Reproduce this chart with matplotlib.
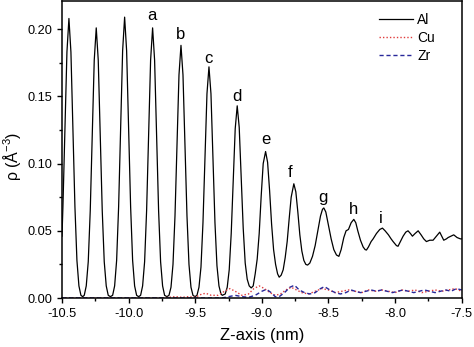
import matplotlib
matplotlib.use("Agg")
import matplotlib.pyplot as plt
from matplotlib.ticker import MultipleLocator

plt.rcParams['font.family'] = ['Liberation Sans', 'DejaVu Sans']
plt.rcParams['mathtext.fontset'] = 'custom'
plt.rcParams['mathtext.rm'] = 'Liberation Sans'
plt.rcParams['mathtext.it'] = 'Liberation Sans'
plt.rcParams['axes.unicode_minus'] = False

# Al density profile
al_z = [-10.500, -10.493, -10.478, -10.463, -10.448, -10.433, -10.418, -10.403, -10.388, -10.373, -10.358, -10.345,
        -10.333, -10.318, -10.303, -10.288, -10.273, -10.258, -10.243, -10.228, -10.213, -10.198, -10.183, -10.168, -10.153, -10.137,
        -10.120, -10.105, -10.090, -10.075, -10.060, -10.045, -10.030, -10.015, -10.000, -9.985, -9.970, -9.955, -9.940, -9.925,
        -9.910, -9.895, -9.880, -9.865, -9.850, -9.835, -9.820, -9.805, -9.790, -9.775, -9.760, -9.745, -9.730, -9.713,
        -9.697, -9.682, -9.667, -9.652, -9.637, -9.622, -9.607, -9.592, -9.577, -9.562, -9.547, -9.532, -9.517, -9.502,
        -9.487, -9.472, -9.457, -9.442, -9.427, -9.412, -9.397, -9.382, -9.367, -9.352, -9.337, -9.322, -9.307, -9.297,
        -9.275, -9.260, -9.245, -9.230, -9.215, -9.200, -9.185, -9.170, -9.155, -9.140, -9.125, -9.110, -9.095, -9.080,
        -9.065, -9.050, -9.035, -9.020, -9.005, -8.990, -8.972, -8.957, -8.942, -8.927, -8.912, -8.897, -8.882, -8.870,
        -8.855, -8.840, -8.825, -8.810, -8.795, -8.780, -8.760, -8.745, -8.730, -8.715, -8.700, -8.685, -8.670, -8.657,
        -8.640, -8.620, -8.600, -8.580, -8.560, -8.545, -8.535, -8.520, -8.500, -8.480, -8.460, -8.440, -8.422,
        -8.405, -8.385, -8.368, -8.350, -8.330, -8.310, -8.295, -8.280, -8.260, -8.240, -8.225, -8.215,
        -8.200, -8.180, -8.165, -8.140, -8.115, -8.095, -8.075, -8.050, -8.030, -8.015, -7.990, -7.978,
        -7.960, -7.940, -7.920, -7.903, -7.885, -7.870, -7.850, -7.827, -7.805, -7.785, -7.765, -7.740,
        -7.715, -7.690, -7.665, -7.650, -7.635, -7.615, -7.602, -7.580, -7.560, -7.535, -7.510, -7.500]
al_rho = [0.046, 0.068, 0.126, 0.183, 0.208, 0.183, 0.126, 0.068, 0.028, 0.009, 0.002, 0.001,
          0.002, 0.009, 0.027, 0.065, 0.122, 0.177, 0.201, 0.177, 0.122, 0.065, 0.027, 0.009, 0.002, 0.001,
          0.002, 0.009, 0.028, 0.068, 0.127, 0.184, 0.209, 0.184, 0.127, 0.068, 0.028, 0.009, 0.002, 0.001,
          0.002, 0.009, 0.027, 0.065, 0.122, 0.177, 0.201, 0.177, 0.122, 0.065, 0.027, 0.009, 0.002, 0.001,
          0.002, 0.008, 0.025, 0.061, 0.114, 0.166, 0.188, 0.166, 0.114, 0.061, 0.025, 0.008, 0.002, 0.001,
          0.002, 0.008, 0.023, 0.056, 0.104, 0.152, 0.172, 0.152, 0.104, 0.056, 0.024, 0.009, 0.003, 0.002,
          0.003, 0.008, 0.021, 0.048, 0.088, 0.126, 0.143, 0.127, 0.090, 0.052, 0.026, 0.014, 0.009, 0.0075,
          0.009, 0.018, 0.029, 0.048, 0.076, 0.100, 0.109, 0.101, 0.080, 0.055, 0.036, 0.025, 0.018, 0.0155,
          0.017, 0.021, 0.030, 0.042, 0.059, 0.075, 0.085, 0.079, 0.064, 0.047, 0.035, 0.028, 0.025, 0.0245,
          0.026, 0.031, 0.039, 0.050, 0.061, 0.066, 0.067, 0.064, 0.054, 0.044, 0.036, 0.032, 0.031,
          0.036, 0.045, 0.050, 0.051, 0.056, 0.0585, 0.056, 0.050, 0.043, 0.038, 0.036, 0.0357,
          0.038, 0.042, 0.044, 0.048, 0.051, 0.052, 0.050, 0.047, 0.044, 0.042, 0.039, 0.0385,
          0.042, 0.046, 0.049, 0.050, 0.048, 0.046, 0.048, 0.050, 0.047, 0.044, 0.042, 0.043,
          0.043, 0.046, 0.049, 0.046, 0.043, 0.044, 0.045, 0.046, 0.047, 0.045, 0.044, 0.044]

cu_z = [-10.5, -9.75, -9.70, -9.65, -9.60, -9.55, -9.50, -9.45, -9.42, -9.38, -9.33, -9.28, -9.24, -9.20,
        -9.15, -9.10, -9.06, -9.02, -8.98, -8.94, -8.90, -8.86, -8.82, -8.78, -8.74, -8.70, -8.65, -8.60,
        -8.55, -8.50, -8.45, -8.40, -8.35, -8.30, -8.25, -8.20, -8.15, -8.10, -8.05, -8.00, -7.95, -7.90,
        -7.85, -7.80, -7.75, -7.70, -7.65, -7.60, -7.55, -7.50]
cu_rho = [0.0, 0.0, 0.0005, 0.001, 0.0005, 0.001, 0.0005, 0.003, 0.0035, 0.002, 0.002, 0.005, 0.007, 0.005,
          0.002, 0.003, 0.007, 0.009, 0.007, 0.004, 0.002, 0.003, 0.006, 0.008, 0.006, 0.004, 0.003, 0.005,
          0.007, 0.006, 0.004, 0.005, 0.006, 0.005, 0.004, 0.006, 0.005, 0.006, 0.005, 0.004, 0.006, 0.005,
          0.006, 0.004, 0.005, 0.006, 0.005, 0.006, 0.007, 0.005]

zr_z = [-10.5, -9.30, -9.25, -9.20, -9.15, -9.10, -9.05, -9.00, -8.965, -8.93, -8.90, -8.87, -8.83, -8.79,
        -8.755, -8.72, -8.68, -8.64, -8.60, -8.56, -8.53, -8.49, -8.45, -8.41, -8.37, -8.33, -8.30, -8.26,
        -8.22, -8.18, -8.14, -8.10, -8.06, -8.02, -7.98, -7.94, -7.90, -7.86, -7.82, -7.78, -7.74, -7.70,
        -7.66, -7.62, -7.58, -7.54, -7.50]
zr_rho = [0.0, 0.0, 0.001, 0.002, 0.001, 0.0005, 0.002, 0.005, 0.0065, 0.004, 0.001, 0.001, 0.004, 0.008,
          0.0095, 0.006, 0.004, 0.003, 0.004, 0.007, 0.0085, 0.006, 0.004, 0.003, 0.004, 0.006, 0.005, 0.004,
          0.005, 0.006, 0.005, 0.006, 0.005, 0.004, 0.005, 0.006, 0.005, 0.004, 0.005, 0.006, 0.005, 0.004,
          0.005, 0.006, 0.005, 0.007, 0.006]

# peak labels
peak_names = ['a', 'b', 'c', 'd', 'e', 'f', 'g', 'h', 'i']
peak_z = [-9.827, -9.6075, -9.3975, -9.19, -8.97, -8.785, -8.545, -8.31, -8.1075]
peak_rho = [0.2065, 0.193, 0.1751, 0.1466, 0.1144, 0.0901, 0.0716, 0.0624, 0.0555]

fig = plt.figure(figsize=(4.74, 3.47), dpi=100)
ax = fig.add_axes([0.1308, 0.1412, 0.8433, 0.8559])

ax.plot(al_z, al_rho, color='black', lw=0.9, label='Al')
ax.plot(cu_z, cu_rho, color='#e03c3c', lw=1.0, ls=(0, (1, 1.5)), label='Cu')
ax.plot(zr_z, zr_rho, color='#28289a', lw=1.0, ls=(0, (3, 2)), label='Zr')

for name, z, r in zip(peak_names, peak_z, peak_rho):
    ax.text(z, r, name, fontsize=12, ha='center', va='baseline')

ax.set_xlim(-10.5, -7.5)
ax.set_ylim(0, 0.221)
ax.xaxis.set_major_locator(MultipleLocator(0.5))
ax.xaxis.set_minor_locator(MultipleLocator(0.25))
ax.yaxis.set_major_locator(MultipleLocator(0.05))
ax.yaxis.set_minor_locator(MultipleLocator(0.025))
ax.set_xticks([-10.5, -10.0, -9.5, -9.0, -8.5, -8.0, -7.5])
ax.set_xticklabels(['-10.5', '-10.0', '-9.5', '-9.0', '-8.5', '-8.0', '-7.5'])
ax.tick_params(which='both', direction='out', labelsize=9.2, width=1.0)
ax.tick_params(which='major', length=3.5)
ax.tick_params(which='minor', length=2)
for sp in ax.spines.values():
    sp.set_linewidth(1.1)

ax.set_xlabel('Z-axis (nm)', fontsize=12, labelpad=6)
ax.set_ylabel('ρ (Å$^{-3}$)', fontsize=11.5)
ax.yaxis.set_label_coords(-0.098, 0.478)

ax.legend(loc='upper left', bbox_to_anchor=(0.793, 0.96), frameon=False, fontsize=10,
          handlelength=2.45, handletextpad=0.32, labelspacing=0.3, borderpad=0, borderaxespad=0)

fig.savefig('out.png', dpi=100)
